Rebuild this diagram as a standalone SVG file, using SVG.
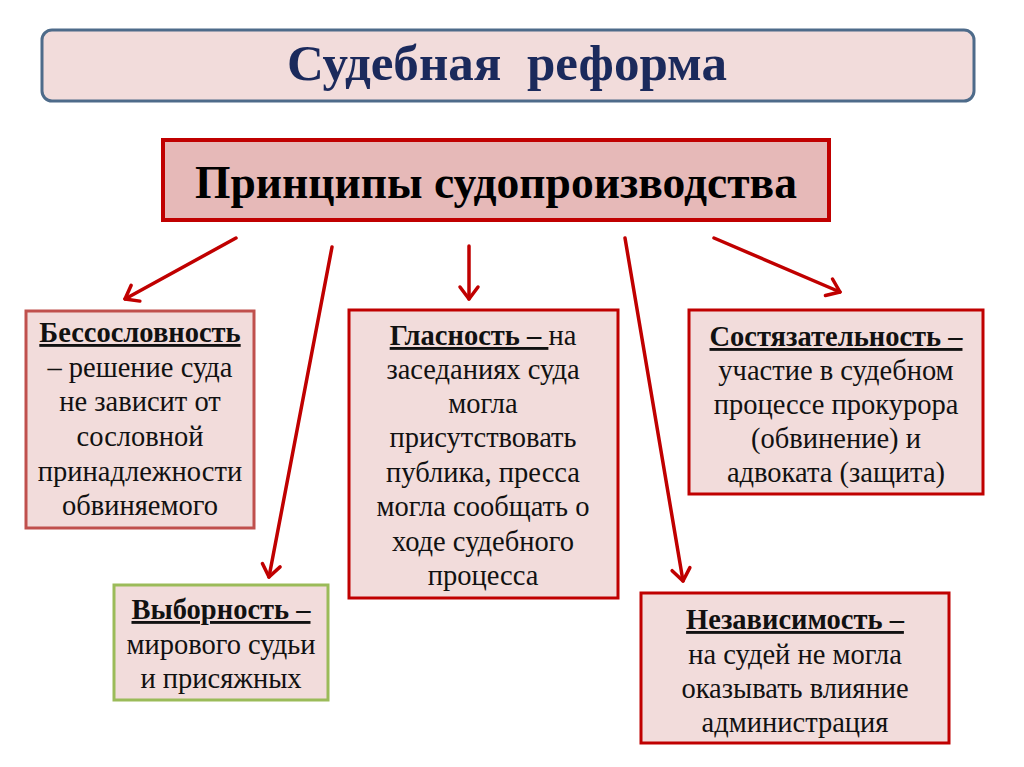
<svg xmlns="http://www.w3.org/2000/svg" width="1024" height="767" viewBox="0 0 1024 767">
<defs>
<marker id="ah" markerUnits="userSpaceOnUse" markerWidth="30" markerHeight="30" refX="15" refY="15" orient="auto" viewBox="0 0 30 30">
<path d="M3,6 L15,15 L3,24" fill="none" stroke="#c00000" stroke-width="3.5" stroke-linecap="round" stroke-linejoin="round"/>
</marker>
</defs>
<style>
.box{fill:#f2dcdb;}
.t{font-family:"Liberation Serif","Times New Roman",serif;font-size:28.5px;fill:#111;text-anchor:middle;}
.b{font-weight:bold;text-decoration:underline;}
.conn line{stroke:#c00000;stroke-width:3.5;stroke-linecap:round;marker-end:url(#ah);}
</style>
<rect width="1024" height="767" fill="#ffffff"/>
<g id="title">
<rect x="42" y="30" width="932" height="71" rx="10" ry="10" fill="#f2dcdb" stroke="#4e6b8a" stroke-width="3"/>
<text x="507" y="80" font-family="'Liberation Serif','Times New Roman',serif" font-size="50" font-weight="bold" fill="#1b2a5c" text-anchor="middle" textLength="440" lengthAdjust="spacingAndGlyphs">Судебная&#160; реформа</text>
</g>
<g id="principles">
<rect x="163" y="140" width="666" height="80" fill="#e6b9b8" stroke="#c00000" stroke-width="4"/>
<text x="496" y="198" font-family="'Liberation Serif','Times New Roman',serif" font-size="46" font-weight="bold" fill="#000" text-anchor="middle" textLength="602" lengthAdjust="spacingAndGlyphs">Принципы судопроизводства</text>
</g>
<g id="bessoslovnost">
<rect class="box" x="26" y="311" width="228" height="217" stroke="#c0504d" stroke-width="3"/>
<text class="t" x="140" y="342"><tspan class="b">Бессословность</tspan></text>
<text class="t" x="140" y="377">– решение суда</text>
<text class="t" x="140" y="411">не зависит от</text>
<text class="t" x="140" y="446">сословной</text>
<text class="t" x="140" y="481">принадлежности</text>
<text class="t" x="140" y="515">обвиняемого</text>
</g>
<g id="glasnost">
<rect class="box" x="349" y="310" width="269" height="288" stroke="#c00000" stroke-width="3"/>
<text class="t" x="483" y="345"><tspan class="b">Гласность – </tspan>на</text>
<text class="t" x="483" y="379">заседаниях суда</text>
<text class="t" x="483" y="413">могла</text>
<text class="t" x="483" y="447">присутствовать</text>
<text class="t" x="483" y="482">публика, пресса</text>
<text class="t" x="483" y="516">могла сообщать о</text>
<text class="t" x="483" y="551">ходе судебного</text>
<text class="t" x="483" y="585">процесса</text>
</g>
<g id="sostyazatelnost">
<rect class="box" x="689" y="310" width="294" height="184" stroke="#c00000" stroke-width="3"/>
<text class="t" x="836" y="346"><tspan class="b">Состязательность –</tspan></text>
<text class="t" x="836" y="380">участие в судебном</text>
<text class="t" x="836" y="414">процессе прокурора</text>
<text class="t" x="836" y="448">(обвинение) и</text>
<text class="t" x="836" y="482">адвоката (защита)</text>
</g>
<g id="vybornost">
<rect class="box" x="114" y="585" width="214" height="115" stroke="#9bbb59" stroke-width="3"/>
<text class="t" x="221" y="619"><tspan class="b">Выборность –</tspan></text>
<text class="t" x="221" y="654">мирового судьи</text>
<text class="t" x="221" y="688">и присяжных</text>
</g>
<g id="nezavisimost">
<rect class="box" x="641" y="593" width="308" height="150" stroke="#c00000" stroke-width="3"/>
<text class="t" x="795" y="629"><tspan class="b">Независимость –</tspan></text>
<text class="t" x="795" y="664">на судей не могла</text>
<text class="t" x="795" y="698">оказывать влияние</text>
<text class="t" x="795" y="732">администрация</text>
</g>
<g id="connectors" class="conn">
<line x1="236" y1="238" x2="125" y2="299"/>
<line x1="332" y1="247" x2="269" y2="577"/>
<line x1="469" y1="246" x2="469" y2="299"/>
<line x1="625" y1="238" x2="683" y2="581"/>
<line x1="714" y1="238" x2="840" y2="292"/>
</g>
</svg>
